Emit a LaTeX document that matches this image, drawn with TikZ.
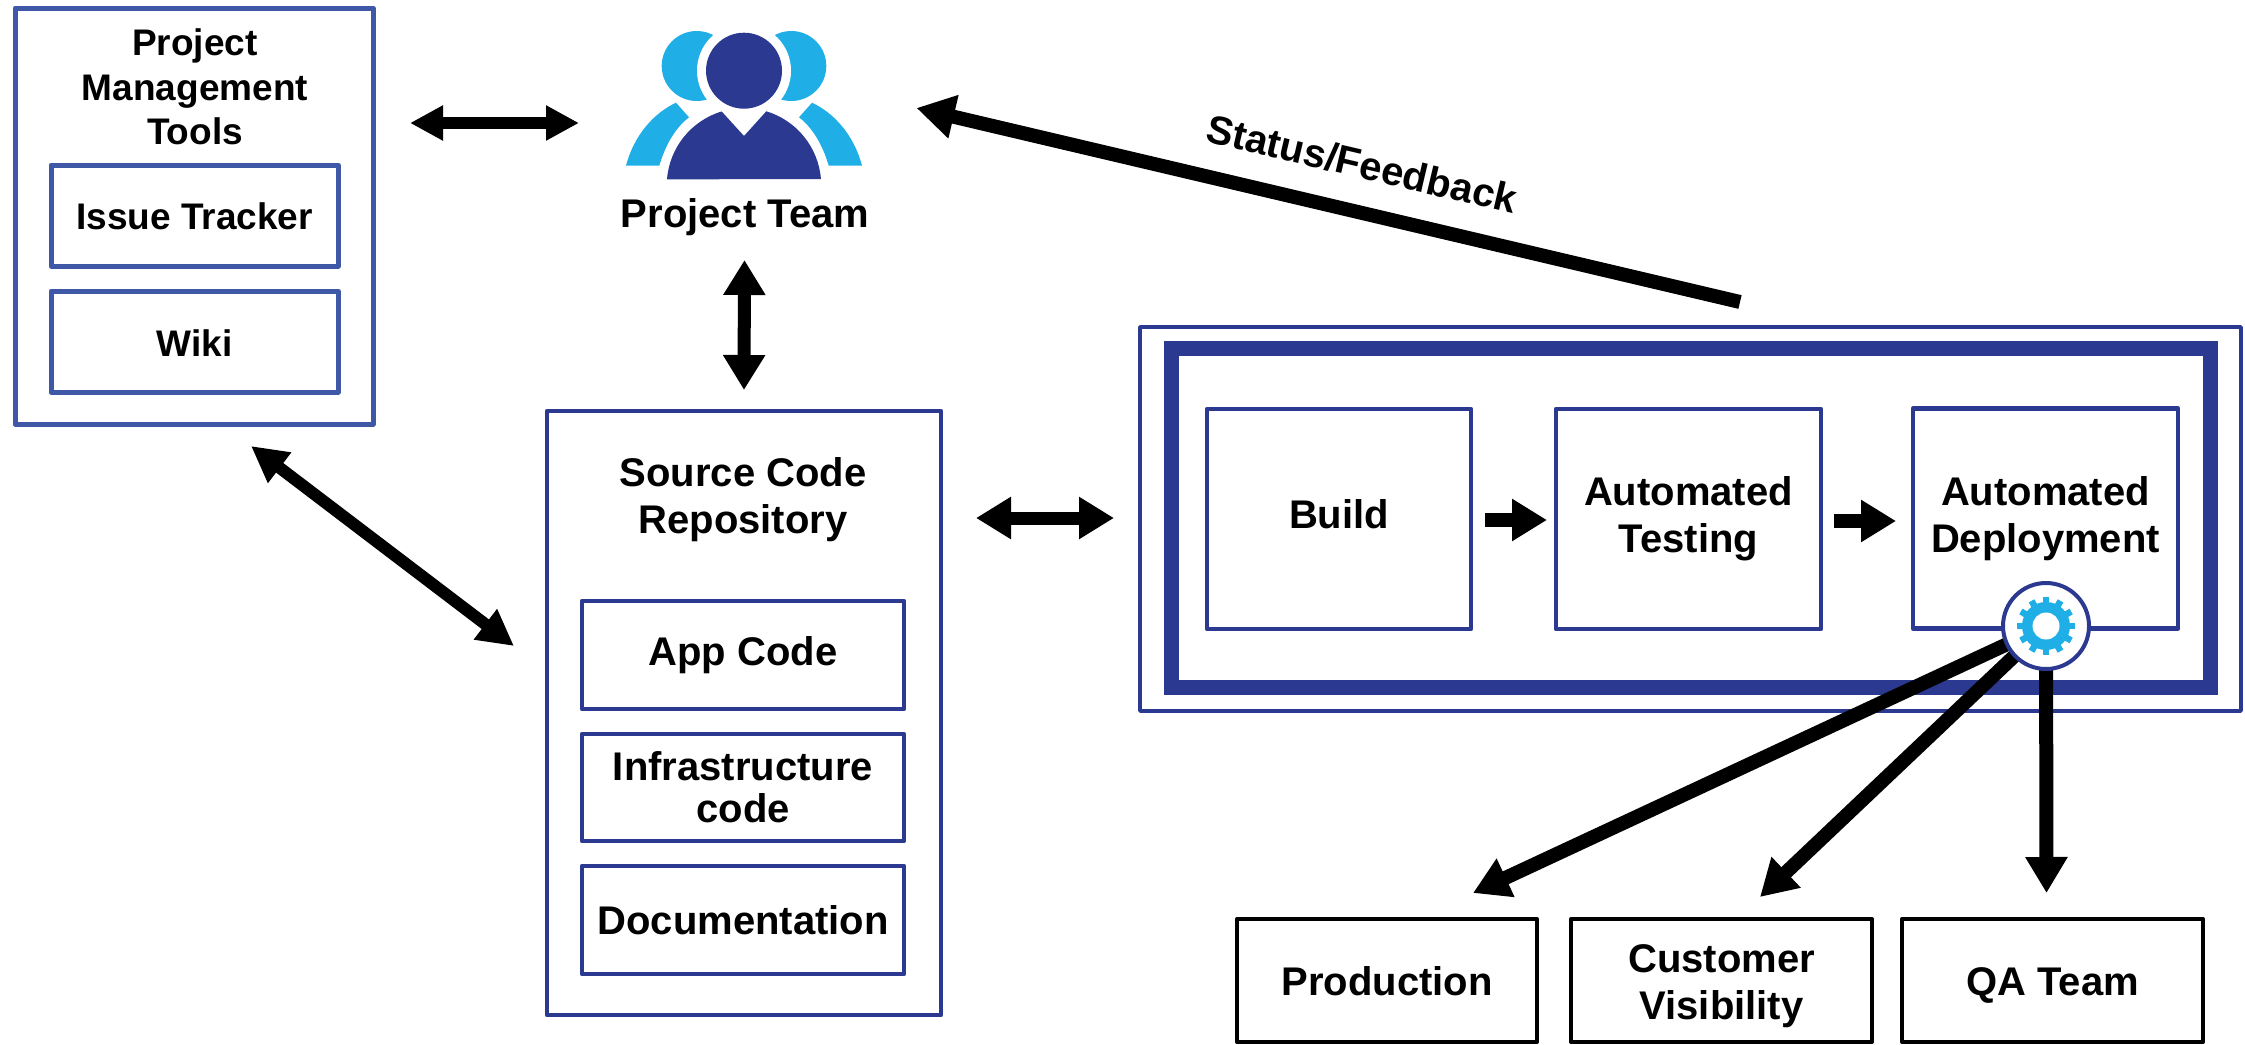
\documentclass[tikz,border=0pt]{standalone}
\usepackage{fontspec}
\setmainfont{Liberation Sans}
\usetikzlibrary{arrows.meta,calc}
\definecolor{navy}{HTML}{2B3990}
\definecolor{midblue}{HTML}{3F57A7}
\definecolor{skyblue}{HTML}{1FAEE6}
\pgfdeclarelayer{fg}
\pgfsetlayers{main,fg}
\tikzset{
  x=1pt,y=-1pt,
  txt/.style={font=\fontsize{40}{47}\selectfont\bfseries,align=center,inner sep=0pt,outer sep=0pt,text=black},
  tighttxt/.style={font=\fontsize{40}{42}\selectfont\bfseries},
  pmtxt/.style={font=\fontsize{37}{44.5}\selectfont\bfseries,align=center,inner sep=0pt,outer sep=0pt,text=black},
  boxbase/.style n args={2}{draw=#1,line width=#2pt,fill=white,minimum width=10pt,inner sep=0pt,outer sep=0pt,line join=round},
  sz/.style n args={2}{minimum width=#1pt,minimum height=#2pt},
  pmbox/.style={boxbase={midblue}{5},pmtxt},
  navybox/.style={boxbase={navy}{4.5},txt},
  blackbox/.style={boxbase={black}{4},txt},
  base/.style={text depth=0pt,text height=#1pt},
  fat/.style n args={3}{line width=#1pt,-{Triangle[length=#2pt,width=#3pt]}},
  dfat/.style n args={3}{line width=#1pt,{Triangle[length=#2pt,width=#3pt]}-{Triangle[length=#2pt,width=#3pt]}},
}
\begin{document}
\begin{tikzpicture}
\useasboundingbox (0,0) rectangle (2245,1044);
% left panel
\node[pmbox,sz={358}{416}] (pm) at (194,216) {};
\node[pmtxt] (pmtitle) at (195,87) {Project\\Management\\Tools};
\node[pmbox,sz={287}{101},base=27.6] (issue) at (194.5,215.5) {Issue Tracker};
\node[pmbox,sz={287}{101},base=29] (wiki) at (194.5,341.5) {Wiki};
% source
\node[navybox,sz={394}{604}] (source) at (744,713) {};
\node[txt] (srctitle) at (743,500) {Source Code\\Repository};
\node[navybox,sz={322}{108},base=20] (app) at (743,655) {App Code};
\node[navybox,tighttxt,sz={322}{107}] (infra) at (743,787.5) {Infrastructure\\code};
\node[navybox,sz={322}{108},base=28] (doc) at (743,920) {Documentation};
% pipeline
\node[boxbase={navy}{3.5},sz={1101}{384}] (pipe) at (1690.5,519) {};
\node[boxbase={navy}{15},line join=miter,sz={1039}{339}] (frame) at (1690.5,517.5) {};
\node[navybox,sz={264}{220},base=18] (build) at (1339,519) {Build};
\node[navybox,sz={265}{220}] (test) at (1688.5,519) {Automated\\Testing};
\node[navybox,sz={265}{220}] (deploy) at (2045.5,518.5) {Automated\\Deployment};
% outputs
\node[blackbox,sz={300}{123},base=29] (prod) at (1387,980.5) {Production};
\node[blackbox,sz={301}{123}] (cust) at (1721.5,980.5) {\rule{0pt}{38.5pt}Customer\\Visibility};
\node[blackbox,sz={301}{123},base=29] (qa) at (2052.5,980.5) {QA Team};
% gear badge
\begin{pgfonlayer}{fg}
\node[circle,draw=navy,line width=4pt,fill=white,minimum size=86pt,inner sep=0pt,outer sep=0pt] (gear) at (2046,626) {};
\foreach \a in {0,30,...,330}
  \draw[skyblue,line width=6.5pt] (gear.center) -- ++(\a:29pt);
\fill[skyblue] (gear.center) circle[radius=24pt];
\fill[white] (gear.center) circle[radius=13.5pt];
\end{pgfonlayer}
% team icon
\node[inner sep=0pt,outer sep=0pt,minimum width=237pt,minimum height=150pt] (team) at (744.5,105) {};
\fill[skyblue] (696.7,66) circle[radius=35pt];
\fill[skyblue] (791.3,66) circle[radius=35pt];
\fill[white] (744,70.7) circle[radius=47pt];
\fill[navy] (744,70.7) circle[radius=38pt];
\fill[skyblue] (626,165.7) .. controls (634,135) and (654,113) .. (676,102.7) -- (689,117.3) .. controls (675,128) and (665,146) .. (659.3,165.7) -- cycle;
\fill[skyblue] (862,165.7) .. controls (854,135) and (834,113) .. (812,102.7) -- (799,117.3) .. controls (813,128) and (823,146) .. (828.7,165.7) -- cycle;
\fill[navy] (667,179.3) arc[start angle=175.5,end angle=106.8,radius=77.2pt] -- (744,136) -- (766.3,111.3) arc[start angle=73.2,end angle=4.5,radius=77.2pt] -- cycle;
\node[txt,anchor=base] (teamlabel) at (745,227) {Project Team};
% connectors
\draw[dfat={12}{33}{33}] ([shift={(37,-93)}]pm.east) -- ([shift={(-47,18)}]team.west);
\draw[dfat={13}{35}{40}] ([shift={(0,80)}]team.south) -- ([shift={(0,-21)}]source.north);
\draw[dfat={12}{36}{36}] ([shift={(57,22)}]pm.south) -- ([shift={(-33,-67)}]source.west);
\draw[dfat={13}{35}{40}] ([shift={(35,-195)}]source.east) -- ([shift={(-26,-1)}]pipe.west);
\draw[fat={14}{35}{40}] ([shift={(14,1)}]build.east) -- ([shift={(-9,1)}]test.west);
\draw[fat={14}{35}{40}] ([shift={(13,2)}]test.east) -- ([shift={(-17,2.5)}]deploy.west);
\draw[fat={14}{38}{42}] ([shift={(49.5,-25)}]pipe.north) -- ([shift={(53.5,3)}]team.east);
\draw[fat={14}{36}{40}] (gear.center) -- ([shift={(86,-26)}]prod.north);
\draw[fat={14}{36}{40}] (gear.center) -- ([shift={(38.5,-22)}]cust.north);
\draw[fat={14}{36}{40}] (gear.center) -- ([shift={(-6,-26)}]qa.north);
\node[txt,rotate=-13.2] (status) at (1362,164) {Status/Feedback};
\end{tikzpicture}
\end{document}
